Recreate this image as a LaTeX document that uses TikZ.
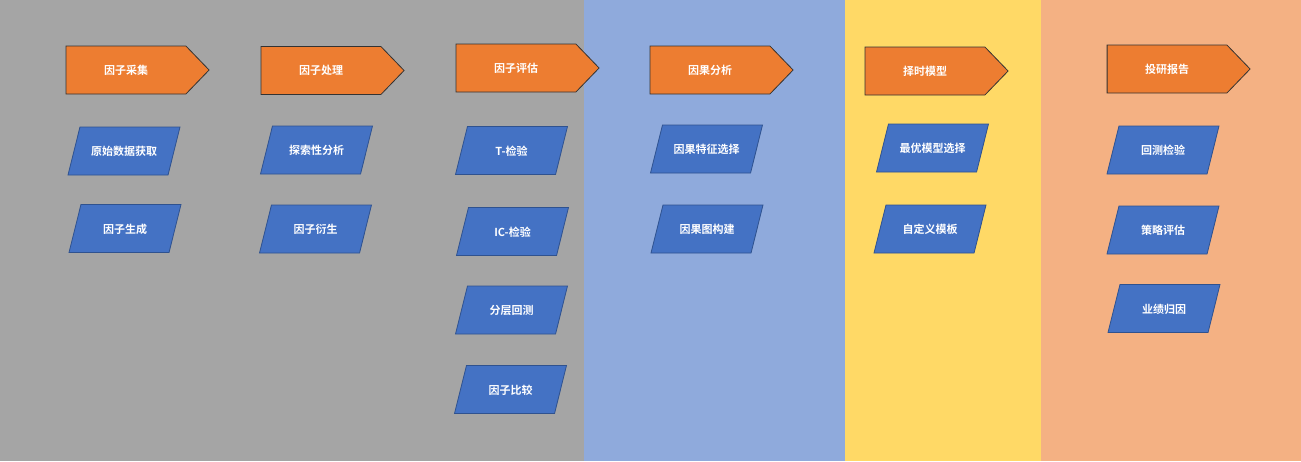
\documentclass[tikz,border=0pt]{standalone}
\usepackage{fontspec}
\newfontfamily\cjk{Noto Sans CJK SC Bold}
\usetikzlibrary{positioning,shapes.geometric,shapes.symbols}

\definecolor{bggray}{HTML}{A5A5A5}
\definecolor{bgblue}{HTML}{8FAADC}
\definecolor{bgyellow}{HTML}{FFD966}
\definecolor{bgpeach}{HTML}{F4B183}
\definecolor{stageorange}{HTML}{ED7D31}
\definecolor{taskblue}{HTML}{4472C4}
\definecolor{taskedge}{HTML}{2F528F}

\begin{document}
\begin{tikzpicture}[x=1pt, y=-1pt,
	stage/.style={signal, signal to=east, signal pointer angle=92, draw=black!80, line width=0.8pt, fill=stageorange, minimum width=143pt, minimum height=48pt, inner sep=0pt, text=white, font=\cjk\fontsize{11}{13}\selectfont},
	task/.style={trapezium, trapezium left angle=76, trapezium right angle=104, trapezium stretches body, draw=taskedge, line width=0.8pt, fill=taskblue, minimum width=112pt, text height=10pt, text depth=1pt, inner xsep=0pt, inner ysep=18.5pt, outer sep=0pt, text=white, font=\cjk\fontsize{11}{13}\selectfont}]

	\useasboundingbox (0,0) rectangle (1301,461);
	\fill[bggray] (0,0) rectangle (584,461);
	\fill[bgblue] (584,0) rectangle (845,461);
	\fill[bgyellow] (845,0) rectangle (1041,461);
	\fill[bgpeach] (1041,0) rectangle (1301,461);

	\node[stage] (s1) at (126,70) {因子采集};
	\node[stage] (s2) at (321,70.5) {因子处理};
	\node[stage] (s3) at (516,68) {因子评估};
	\node[stage] (s4) at (710,70) {因果分析};
	\node[stage] (s5) at (925,71) {择时模型};
	\node[stage] (s6) at (1167,69) {投研报告};

	\node[task] (t11) at (124,151) {原始数据获取};
	\node[task] (t12) at (125,228.5) {因子生成};

	\node[task] (t21) at (316.5,150) {探索性分析};
	\node[task] (t22) at (315.5,229) {因子衍生};

	\node[task] (t31) at (511.5,150.5) {T-检验};
	\node[task] (t32) at (512.5,231.5) {IC-检验};
	\node[task] (t33) at (511.5,310) {分层回测};
	\node[task] (t34) at (510.5,389.5) {因子比较};

	\node[task] (t41) at (706.5,149) {因果特征选择};
	\node[task] (t42) at (707,229) {因果图构建};

	\node[task] (t51) at (932.5,148) {最优模型选择};
	\node[task] (t52) at (930,229) {自定义模板};

	\node[task] (t61) at (1163,150) {回测检验};
	\node[task] (t62) at (1163,230) {策略评估};
	\node[task] (t63) at (1164,308.5) {业绩归因};

\end{tikzpicture}
\end{document}
